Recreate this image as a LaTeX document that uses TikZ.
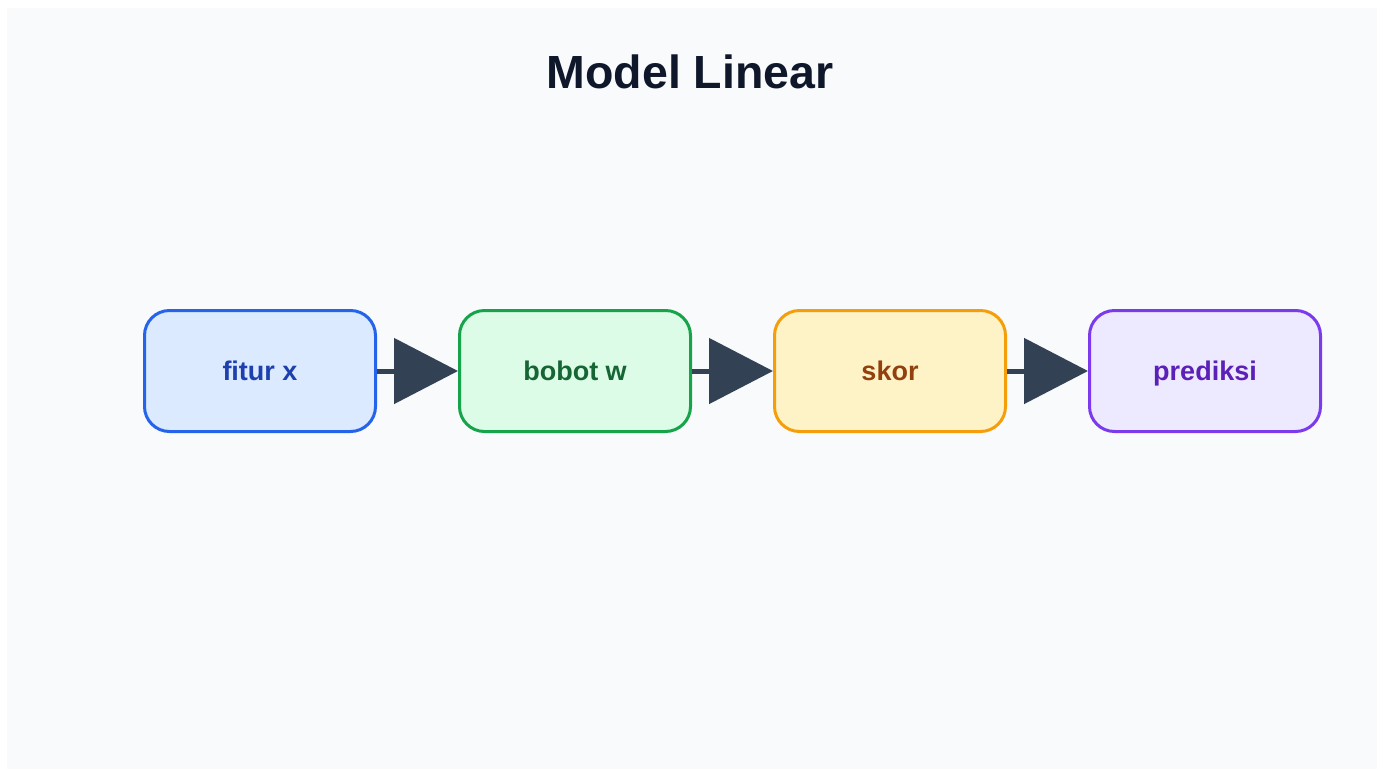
\documentclass[tikz,border=0pt]{standalone}
\usepackage{fontspec}
\setmainfont{Liberation Sans}
\usetikzlibrary{arrows.meta}

\definecolor{pagebg}{HTML}{F8FAFC}
\definecolor{titleink}{HTML}{0F172A}
\definecolor{arrowink}{HTML}{334155}
\definecolor{blueFill}{HTML}{DBEAFE}\definecolor{blueLine}{HTML}{2563EB}\definecolor{blueText}{HTML}{1E40AF}
\definecolor{greenFill}{HTML}{DCFCE7}\definecolor{greenLine}{HTML}{16A34A}\definecolor{greenText}{HTML}{166534}
\definecolor{amberFill}{HTML}{FEF3C7}\definecolor{amberLine}{HTML}{F59E0B}\definecolor{amberText}{HTML}{92400E}
\definecolor{violetFill}{HTML}{EDE9FE}\definecolor{violetLine}{HTML}{7C3AED}\definecolor{violetText}{HTML}{5B21B6}

\tikzset{
  stagebox/.style n args={3}{draw=#2, fill=#1, text=#3, line width=3pt,
    rounded corners=25pt, minimum width=231pt, minimum height=121pt,
    inner sep=0pt, text height=19.5pt, text depth=0pt,
    font=\fontsize{27}{32}\selectfont\bfseries},
  flow/.style={draw=arrowink, line width=5pt,
    -{Triangle[length=64pt, width=65pt, fill=arrowink]}}
}

\begin{document}
\begin{tikzpicture}[x=1pt, y=-1pt]
  % canvas and panel
  \useasboundingbox (0,0) rectangle (1384,769);
  \fill[white] (0,0) rectangle (1384,769);
  \fill[pagebg] (7,8) rectangle (1377,769);

  % heading
  \node[text=titleink, font=\fontsize{46.5}{52}\selectfont\bfseries] (title) at (690,72) {Model Linear};

  % pipeline stages
  \node[stagebox={blueFill}{blueLine}{blueText}]     (fitur)    at (260,371)  {fitur x};
  \node[stagebox={greenFill}{greenLine}{greenText}]  (bobot)    at (575,371)  {bobot w};
  \node[stagebox={amberFill}{amberLine}{amberText}]  (skor)     at (890,371)  {skor};
  \node[stagebox={violetFill}{violetLine}{violetText}] (prediksi) at (1205,371) {prediksi};

  % connectors
  \draw[flow] (fitur.east) -- (bobot.west);
  \draw[flow] (bobot.east) -- (skor.west);
  \draw[flow] (skor.east) -- (prediksi.west);
\end{tikzpicture}
\end{document}
